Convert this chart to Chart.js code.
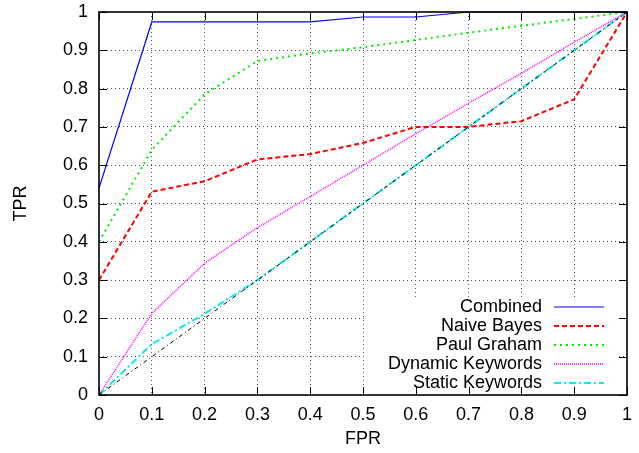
<!DOCTYPE html>
<html>
<head>
<meta charset="utf-8">
<script src="https://cdn.jsdelivr.net/npm/chart.js@4/dist/chart.umd.min.js"></script>
<style>
html, body {margin:0; padding:0; background:#fff;}
</style>
</head>
<body>
<canvas id="RocChart" width="639" height="453"></canvas>
<script>
// ROC curves
var fpr = [0, 0.1, 0.2, 0.3, 0.4, 0.5, 0.6, 0.7, 0.8, 0.9, 1];
var combined = [0.54, 0.974, 0.974, 0.974, 0.974, 0.987, 0.987, 1, 1, 1, 1];
var naive_bayes = [0.30, 0.531, 0.558, 0.615, 0.629, 0.658, 0.70, 0.70, 0.715, 0.772, 1];
var paul_graham = [0.40, 0.64, 0.785, 0.872, 0.892, 0.908, 0.927, 0.946, 0.964, 0.982, 1];
var dynamic_keywords = [0, 0.213, 0.344, 0.437, 0.518, 0.60, 0.682, 0.762, 0.84, 0.921, 1];
var static_keywords = [0, 0.133, 0.212, 0.30, 0.40, 0.50, 0.60, 0.70, 0.80, 0.90, 1];
var chance_x = [0, 1];
var chance_y = [0, 1];
var tick_values = [0, 0.1, 0.2, 0.3, 0.4, 0.5, 0.6, 0.7, 0.8, 0.9, 1];

var FONT = '"Liberation Sans", Arial, sans-serif';

function pts(xs, ys){
  var out = [];
  xs.forEach((x, i) => out.push({x: x, y: ys[i]}));
  return out;
}

function line(label, xs, ys, color, width, dash){
  return {label: label, data: pts(xs, ys), borderColor: color, backgroundColor: color,
    borderWidth: width, borderDash: dash, pointRadius: 0, tension: 0, fill: false, clip: 4};
}

// black diagonal goes first so it is painted on top
var datasets = [
  line('', chance_x, chance_y, '#000000', 1, [4, 3, 1, 3]),
  line('Combined', fpr, combined, '#0000ff', 1.2, []),
  line('Naive Bayes', fpr, naive_bayes, '#ff0000', 2, [5, 3]),
  line('Paul Graham', fpr, paul_graham, '#00ee00', 2, [2, 4]),
  line('Dynamic Keywords', fpr, dynamic_keywords, '#ff00ff', 1.5, [1, 1]),
  line('Static Keywords', fpr, static_keywords, '#00eeee', 2, [7, 3, 2, 3])
];

var gnuplotLook = {
  id: 'gnuplotLook',
  beforeDatasetsDraw(chart){
    // blank the grid behind the key, like gnuplot does
    var a = chart.chartArea, c = chart.ctx;
    c.save();
    c.fillStyle = '#fff';
    c.fillRect(a.left + 267, a.top + 285, 251, a.bottom - a.top - 285);
    c.restore();
  },
  afterDraw(chart){
    var a = chart.chartArea, c = chart.ctx;
    var xs = chart.scales.x, ys = chart.scales.y;
    c.save();
    c.setLineDash([]);
    c.strokeStyle = '#000';
    c.lineWidth = 1;
    tick_values.forEach(v => {
      var px = Math.round(xs.getPixelForValue(v)) + 0.5;
      var py = Math.round(ys.getPixelForValue(v)) + 0.5;
      c.beginPath();
      c.moveTo(px, a.bottom); c.lineTo(px, a.bottom - 8);
      c.moveTo(px, a.top); c.lineTo(px, a.top + 8);
      c.moveTo(a.left, py); c.lineTo(a.left + 8, py);
      c.moveTo(a.right, py); c.lineTo(a.right - 8, py);
      c.stroke();
    });
    c.lineWidth = 1.6;
    c.strokeRect(a.left, a.top, a.right - a.left, a.bottom - a.top);

    // axis titles
    c.fillStyle = '#000';
    c.font = '18px ' + FONT;
    c.textAlign = 'center';
    c.textBaseline = 'middle';
    c.fillText('FPR', (a.left + a.right) / 2, 439);
    c.save();
    c.translate(21, (a.top + a.bottom) / 2);
    c.rotate(-Math.PI / 2);
    c.fillText('TPR', 0, 0);
    c.restore();

    // key
    var row = 0;
    chart.data.datasets.forEach(ds => {
      if(!ds.label) return;
      var y = a.bottom - 88 + row * 19;
      c.textAlign = 'right';
      c.fillText(ds.label, a.left + 443, y);
      c.beginPath();
      c.strokeStyle = ds.borderColor;
      c.lineWidth = ds.borderWidth;
      c.setLineDash(ds.borderDash);
      c.moveTo(a.left + 455, y); c.lineTo(a.left + 505, y);
      c.stroke();
      c.setLineDash([]);
      row = row + 1;
    });
    c.restore();
  }
};

function fmt(v){ return String(Math.round(v * 10) / 10); }

var ctx = document.getElementById('RocChart');
var rocChart = new Chart(ctx, {
  type: 'line',
  data: {datasets: datasets},
  options: {
    responsive: false,
    animation: false,
    layout: {padding: {top: 12, right: 12, left: 0, bottom: 0}},
    plugins: {legend: {display: false}, tooltip: {enabled: false}},
    scales: {
      x: {
        type: 'linear', min: 0, max: 1,
        afterFit: s => { s.height = 58; s.paddingLeft = 0; s.paddingRight = 0; },
        ticks: {stepSize: 0.1, callback: fmt, color: '#000', padding: 9, maxRotation: 0,
          font: {family: FONT, size: 18}},
        grid: {color: c => (c.tick.value > 0.001 && c.tick.value < 0.999) ? '#555' : 'rgba(0,0,0,0)',
          lineWidth: 1, drawTicks: false},
        border: {display: false, dash: [1, 3]}
      },
      y: {
        type: 'linear', min: 0, max: 1,
        afterFit: s => { s.width = 99; s.paddingTop = 0; s.paddingBottom = 0; },
        ticks: {stepSize: 0.1, callback: fmt, color: '#000', padding: 11,
          font: {family: FONT, size: 18}},
        grid: {color: c => (c.tick.value > 0.001 && c.tick.value < 0.999) ? '#555' : 'rgba(0,0,0,0)',
          lineWidth: 1, drawTicks: false},
        border: {display: false, dash: [1, 3]}
      }
    }
  },
  plugins: [gnuplotLook]
});
</script>
</body>
</html>
